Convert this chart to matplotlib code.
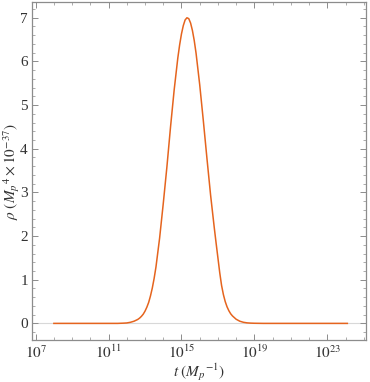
import matplotlib
matplotlib.use("Agg")
import matplotlib.pyplot as plt
import matplotlib.ticker as mticker
import numpy as np

# values: log10(t) and rho (x 1e-37 Mp^4)
log_t = [8.0, 9.0, 10.0, 11.0, 11.5, 11.8, 12.0, 12.2, 12.4, 12.5, 12.6,
         12.7, 12.8, 12.9, 13.0, 13.1, 13.2, 13.3, 13.4, 13.5, 13.6,
         13.8, 14.0, 14.2, 14.4, 14.6, 14.8, 14.9, 15.0, 15.1, 15.2,
         15.3, 15.4, 15.5, 15.6, 15.7, 15.8, 16.0, 16.2, 16.4, 16.6,
         16.8, 16.9, 17.0, 17.1, 17.2, 17.3, 17.4, 17.5, 17.6, 17.7,
         17.8, 18.0, 18.2, 18.4, 18.6, 18.8, 19.0, 19.5, 20.0, 21.0,
         22.0, 23.0, 24.1]
rho = [0.0, 0.0, 0.0, 0.0, 0.0, 0.005, 0.01, 0.025, 0.05, 0.07, 0.09,
       0.12, 0.16, 0.21, 0.28, 0.37, 0.48, 0.63, 0.81, 1.03, 1.29,
       1.95, 2.74, 3.58, 4.50, 5.35, 6.08, 6.38, 6.63, 6.82, 6.95,
       7.00, 6.98, 6.88, 6.71, 6.48, 6.19, 5.47, 4.64, 3.77, 2.93,
       2.19, 1.84, 1.50, 1.16, 0.87, 0.66, 0.50, 0.38, 0.29, 0.22,
       0.17, 0.095, 0.05, 0.025, 0.012, 0.006, 0.003, 0.0, 0.0, 0.0,
       0.0, 0.0, 0.0]
x_major = [1e7, 1e11, 1e15, 1e19, 1e23]

plt.rcParams["font.family"] = ["Liberation Serif", "DejaVu Serif"]
plt.rcParams["mathtext.fontset"] = "stix"

fig = plt.figure(figsize=(3.7, 3.82), dpi=100)
ax = fig.add_axes([0.0865, 0.110, 0.9015, 0.8835])

t = [10 ** v for v in log_t]
ax.axhline(0, color="#d8d8d8", lw=0.8, zorder=1)
ax.plot(t, rho, color="#e5641e", lw=1.1, zorder=3)

ax.set_xscale("log")
ax.set_xlim(10 ** 6.8, 10 ** 25.1)
ax.set_ylim(-0.38, 7.35)

ax.xaxis.set_major_locator(mticker.FixedLocator(x_major))
ax.xaxis.set_minor_locator(mticker.FixedLocator([10.0 ** k for k in range(6, 26)]))
ax.xaxis.set_major_formatter(mticker.FuncFormatter(
    lambda v, p: r"$10^{%d}$" % round(np.log10(v))))
ax.xaxis.set_minor_formatter(mticker.NullFormatter())
ax.yaxis.set_major_locator(mticker.MultipleLocator(1))
ax.yaxis.set_minor_locator(mticker.MultipleLocator(0.2))

for s in ax.spines.values():
    s.set_color("#8c8c8c")
    s.set_linewidth(0.9)
ax.tick_params(which="both", direction="in", top=True, right=True,
               color="#8c8c8c", labelsize=11, labelcolor="#333333")
ax.tick_params(which="major", length=4.5, width=0.7, pad=3)
ax.tick_params(which="minor", length=2.5, width=0.5)

ax.set_xlabel(r"$t\ (M_p{}^{-1})$", fontsize=11, color="#333333", labelpad=0)
ax.set_ylabel(r"$\rho\ (M_p{}^{4}\times10^{-37})$", fontsize=11,
              color="#333333", labelpad=-1)

fig.savefig("out.png", dpi=100)
